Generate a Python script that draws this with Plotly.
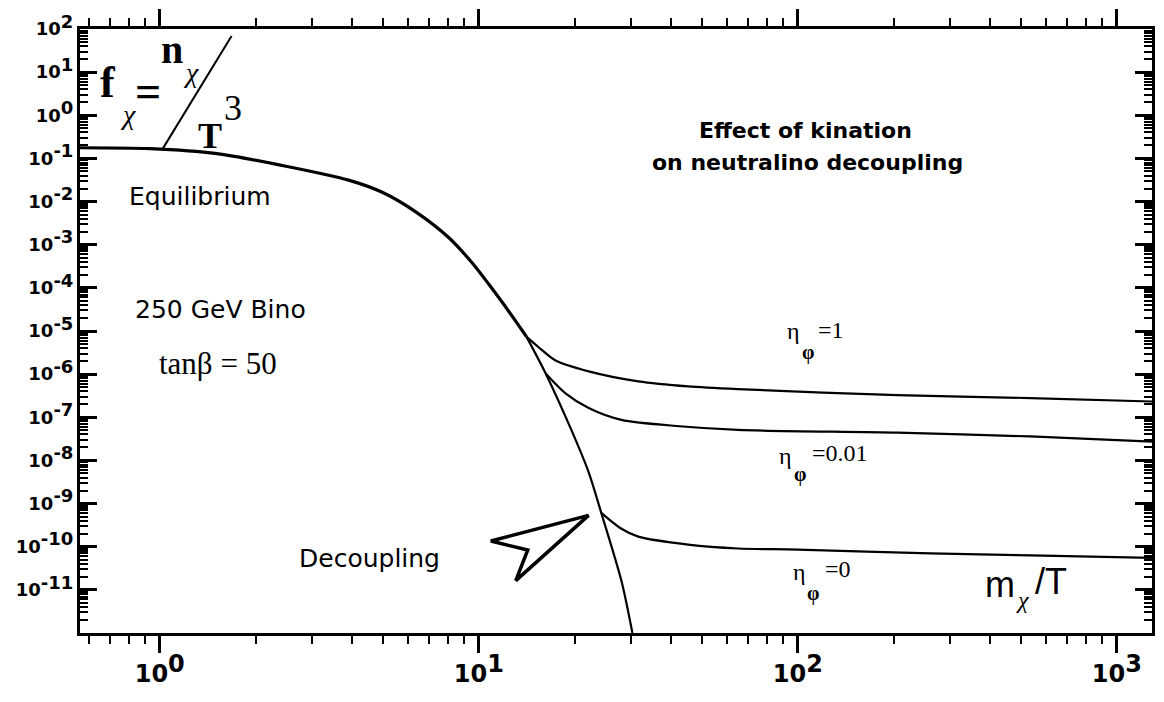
import plotly.graph_objects as go

# ---------------- data ----------------
eq_x = [0.562, 0.93, 1.51, 2.42, 3.93, 4.98, 6.36, 8.06, 9.51, 10.75, 12.14, 14.1,
        16.2, 19.5, 22.1, 24.2, 28.0, 30.3]
eq_y = [0.177, 0.168, 0.129, 0.0684, 0.031, 0.0164, 0.00571, 0.00145, 3.86e-4, 1.21e-4,
        3.59e-5, 7.4e-6, 1.04e-6, 5.1e-8, 5.3e-9, 6.1e-10, 1.6e-11, 1.0e-12]
split_index = 11  # equilibrium drawn thicker up to x ~ 14

eta1_x = [14.1, 15.4, 17.4, 22.1, 31.6, 45.3, 64.9, 205, 535, 1300]
eta1_y = [7.4e-6, 4.2e-6, 2.07e-6, 1.16e-6, 6.8e-7, 5.2e-7, 4.5e-7, 3.26e-7, 2.79e-7, 2.32e-7]

eta001_x = [16.2, 18.7, 22.1, 28.0, 42.6, 64.9, 205, 535, 1300]
eta001_y = [1.04e-6, 3.6e-7, 1.64e-7, 8.7e-8, 6.2e-8, 5.1e-8, 4.4e-8, 3.6e-8, 2.73e-8]

eta0_x = [24.2, 28.0, 31.6, 45.3, 64.9, 100, 260, 535, 1300]
eta0_y = [6.1e-10, 2.6e-10, 1.71e-10, 1.12e-10, 9.1e-11, 8.6e-11, 7.0e-11, 6.3e-11, 5.5e-11]

x_tickvals = [1, 10, 100, 1000]
x_tickexp = ["0", "1", "2", "3"]
y_tickvals = [10.0 ** k for k in range(-11, 3)]
y_tickexp = [str(k) for k in range(-11, 3)]

# ---------------- figure ----------------
L, T, W, H = 80, 22, 1075, 611
def px(x):
    return (x - L) / W
def py(y):
    return (T + H - y) / H

SANS = "DejaVu Sans"
SERIF = "Liberation Serif"

fig = go.Figure()
def curve(xs, ys, w):
    fig.add_trace(go.Scatter(x=xs, y=ys, mode="lines",
                             line=dict(color="black", width=w, shape="spline", smoothing=0.8),
                             showlegend=False, hoverinfo="skip"))

curve(eq_x[:split_index + 1], eq_y[:split_index + 1], 3.2)
curve(eq_x[split_index:], eq_y[split_index:], 2.2)
curve(eta1_x, eta1_y, 2.2)
curve(eta001_x, eta001_y, 2.2)
curve(eta0_x, eta0_y, 2.2)

xt = ['10<sup><span style="font-size:24px">%s</span></sup>' % e for e in x_tickexp]
yt = ['10<sup><span style="font-size:18px">%s</span></sup>' % e for e in y_tickexp]

fig.update_xaxes(type="log", range=[-0.25, 3.11], showline=True, linewidth=3, linecolor="black",
                 mirror="allticks", ticks="outside", ticklen=17, tickwidth=2.5, tickcolor="black",
                 tickvals=x_tickvals, ticktext=xt, showgrid=False, zeroline=False,
                 tickfont=dict(family=SANS, size=24, color="black", weight="bold"),
                 minor=dict(ticks="outside", ticklen=8, tickwidth=1.5, tickcolor="black",
                            dtick="D1", showgrid=False))
fig.update_yaxes(type="log", range=[-12, 2], showline=True, linewidth=3, linecolor="black",
                 mirror="allticks", ticks="inside", ticklen=17, tickwidth=2.5, tickcolor="black",
                 tickvals=y_tickvals, ticktext=yt, showgrid=False, zeroline=False,
                 tickfont=dict(family=SANS, size=18, color="black", weight="bold"),
                 minor=dict(ticks="inside", ticklen=8, tickwidth=1.5, tickcolor="black",
                            dtick="D1", showgrid=False))

ann = []
def A(text, x, y, size, family=SANS, bold=False, italic=False):
    ann.append(dict(text=text, x=px(x), y=py(y - 4), xref="paper", yref="paper",
                    xanchor="center", yanchor="middle", showarrow=False,
                    font=dict(family=family, size=size, color="black",
                              weight="bold" if bold else "normal",
                              style="italic" if italic else "normal")))

# f_chi = n_chi / T^3
A("f", 108, 80, 44, SERIF, bold=True)
A("χ", 128, 112, 28, SERIF, italic=True)
A("=", 148, 89, 46, SERIF, bold=True)
A("n", 172, 47, 40, SERIF, bold=True)
A("χ", 191, 70, 28, SERIF, italic=True)
A("T", 210, 134, 36, SERIF, bold=True)
A("3", 233, 106, 36, SERIF)

A("Equilibrium", 200, 195, 25)
A("250 GeV Bino", 221, 310, 25)
A("tanβ = 50", 218, 364, 31, SERIF)
A("Effect of kination", 808, 129, 22, bold=True)
A("on neutralino decoupling", 810, 161, 22, bold=True)
A("Decoupling", 370, 562, 25)

# eta labels
A("η", 795, 332, 24, SERIF)
A("φ", 810, 353, 20, SERIF, bold=True)
A("=1", 833, 330, 24, SERIF)
A("η", 787, 458, 24, SERIF)
A("φ", 802, 477, 20, SERIF, bold=True)
A("=0.01", 842, 455, 24, SERIF)
A("η", 802, 575, 24, SERIF)
A("φ", 815, 597, 20, SERIF, bold=True)
A("=0", 840, 572, 24, SERIF)

# m_chi / T
A("m", 1003, 588, 36, "Liberation Sans")
A("χ", 1026, 604, 24, SERIF, italic=True)
A("/T", 1054, 585, 36, "Liberation Sans")

shapes = [
    dict(type="line", xref="paper", yref="paper", x0=px(163), y0=py(143), x1=px(232), y1=py(29),
         line=dict(color="black", width=2)),
    dict(type="path", xref="paper", yref="paper",
         path="M %f,%f L %f,%f L %f,%f L %f,%f Z" % (px(590), py(514), px(492), py(540),
                                                     px(529), py(549), px(517), py(580)),
         line=dict(color="black", width=3.5), fillcolor="white"),
]

fig.update_layout(width=1164, height=702, margin=dict(l=L, r=1164 - L - W, t=T, b=702 - T - H),
                  paper_bgcolor="white", plot_bgcolor="white", annotations=ann, shapes=shapes,
                  font=dict(family=SANS, color="black"))

fig.write_html("out.html")
